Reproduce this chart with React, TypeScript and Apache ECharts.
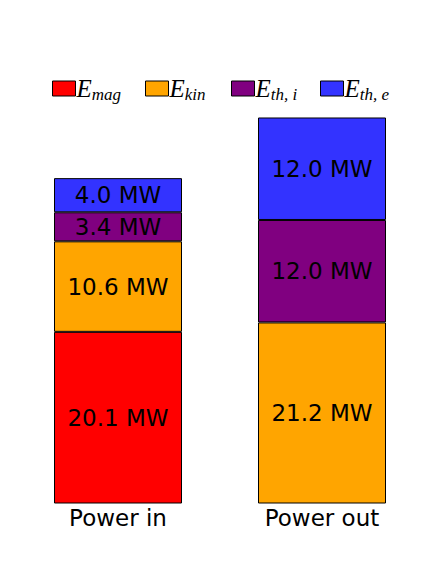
import React, { useEffect, useRef } from "react";
import * as echarts from "echarts";

const categories = ["Power in", "Power out"];
const seriesNames = ["E_mag", "E_kin", "E_th,i", "E_th,e"];
const subscripts = ["mag", "kin", "th, i", "th, e"];
const colors = ["#ff0000", "#ffa500", "#800080", "#3333ff"];
const eMag = [20.1, 0];
const eKin = [10.6, 21.2];
const eThI = [3.4, 12.0];
const eThE = [4.0, 12.0];
const legendLeft = [47, 140, 226, 315];

export default function App() {
  const ref = useRef<HTMLDivElement>(null);
  useEffect(() => {
    const chart = echarts.init(ref.current!, undefined, { renderer: "svg" });
    const values = [eMag, eKin, eThI, eThE];
    const series = seriesNames.map((name, i) => ({
      name,
      type: "bar",
      stack: "total",
      barWidth: 128,
      data: values[i].map((v) => (v === 0 ? "-" : v)),
      itemStyle: { color: colors[i], borderColor: "#000", borderWidth: 1 },
      label: {
        show: true,
        position: "inside",
        color: "#000",
        fontSize: 23,
        fontFamily: "DejaVu Sans",
        formatter: (p: any) => `${Number(p.value).toFixed(1)} MW`,
      },
    }));
    const legends = seriesNames.map((name, i) => ({
      data: [name],
      left: legendLeft[i],
      top: 71,
      itemWidth: 23,
      itemHeight: 15,
      itemGap: 0,
      icon: "rect",
      itemStyle: { borderColor: "#000", borderWidth: 1 },
      selectedMode: false,
      formatter: () => `{e|E}{s|${subscripts[i]}}`,
      textStyle: {
        padding: [0, 0, 0, -4],
        rich: {
          e: {
            fontSize: 25,
            fontStyle: "italic",
            fontFamily: "Liberation Serif",
            color: "#000",
          },
          s: {
            fontSize: 17,
            fontStyle: "italic",
            fontFamily: "Liberation Serif",
            color: "#000",
            padding: [11, 0, 0, 0],
          },
        },
      },
    }));
    chart.setOption({
      animation: false,
      legend: legends,
      grid: { left: 16, right: 8, top: 76.5, bottom: 72.5 },
      xAxis: {
        type: "category",
        data: categories,
        axisLine: { show: false },
        axisTick: { show: false },
        axisLabel: {
          color: "#000",
          fontSize: 23,
          fontFamily: "DejaVu Sans",
          margin: 3,
        },
      },
      yAxis: {
        type: "value",
        min: 0,
        max: 50,
        show: false,
        splitLine: { show: false },
      },
      series,
    });
    return () => chart.dispose();
  }, []);
  return <div ref={ref} style={{ width: 432, height: 576, position: "absolute", left: 0, top: 0 }} />;
}
